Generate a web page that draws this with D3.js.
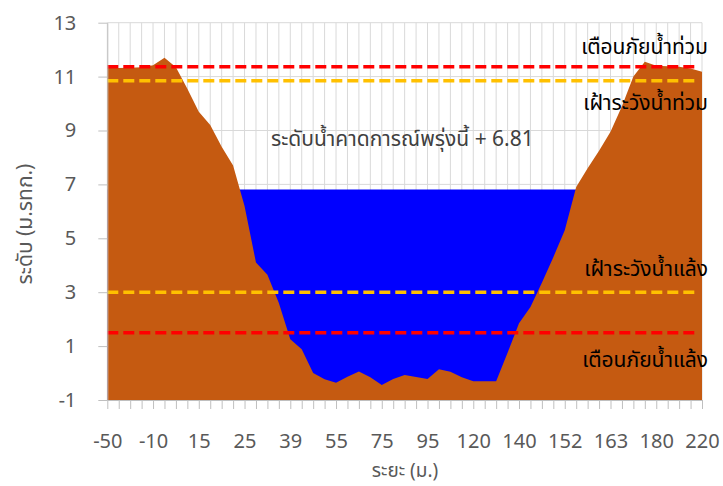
<!DOCTYPE html>
<html>
<head>
<meta charset="utf-8">
<script src="https://cdn.jsdelivr.net/npm/d3@7"></script>
<style>
  body { margin: 0; background: #fff; }
  svg text { font-family: Tahoma, "Noto Sans Thai", "Liberation Sans", "DejaVu Sans", sans-serif; }
</style>
</head>
<body>
<script>
// cross-section distances (only every 4th one is shown on the axis)
const tickLabels = ["-50", "-10", "15", "25", "39", "55", "75", "95", "120", "140", "152", "163", "180", "220"]

// ground elevation at each survey point (m. MSL)
const ground = [
  11.32, 11.32, 11.33, 11.35, 11.42, 11.7, 11.35, 10.55, 9.7, 9.2,
  8.4, 7.7, 6.2, 4.1, 3.65, 2.6, 1.25, 0.88, 0.0, -0.23,
  -0.36, -0.14, 0.06, -0.16, -0.44, -0.22, -0.07, -0.15, -0.22, 0.14,
  0.05, -0.16, -0.3, -0.3, -0.3, 0.75, 1.85, 2.45, 3.35, 4.3,
  5.3, 6.9, 7.6, 8.25, 8.95, 9.9, 11.0, 11.55, 11.4, 11.38,
  11.37, 11.3, 11.18
]

const waterLevel = 6.81

// warning levels
const levels = [
  { name: "เตือนภัยน้ำท่วม", value: 11.37, color: "#FF0000" },
  { name: "เฝ้าระวังน้ำท่วม", value: 10.85, color: "#FFC000" },
  { name: "เฝ้าระวังน้ำแล้ง", value: 3.0, color: "#FFC000" },
  { name: "เตือนภัยน้ำแล้ง", value: 1.5, color: "#FF0000" }
]

const yTicks = [-1, 1, 3, 5, 7, 9, 11, 13]

const width = 723
const height = 486
const margin = { left: 107.3, right: 21, top: 22.7, bottom: 86 }

const svg = d3.select("body").append("svg")
  .attr("width", width)
  .attr("height", height)

const idx = d3.range(ground.length)

const x = d3.scalePoint()
  .domain(idx)
  .range([margin.left, width - margin.right])

const y = d3.scaleLinear()
  .domain([-1, 13])
  .range([height - margin.bottom, margin.top])

// gridlines
svg.append("g")
  .selectAll("line.h")
  .data(yTicks)
  .enter().append("line")
  .attr("x1", margin.left).attr("x2", width - margin.right)
  .attr("y1", d => y(d)).attr("y2", d => y(d))
  .attr("stroke", "#D9D9D9")

svg.append("g")
  .selectAll("line.v")
  .data(idx)
  .enter().append("line")
  .attr("x1", d => x(d)).attr("x2", d => x(d))
  .attr("y1", y(13)).attr("y2", y(-1))
  .attr("stroke", "#D9D9D9")

// water
const water = d3.area()
  .x(d => x(d))
  .y0(y(-1))
  .y1(y(waterLevel))

svg.append("path")
  .datum(idx)
  .attr("d", water)
  .attr("fill", "#0000FF")

// ground
const area = d3.area()
  .x((d, i) => x(i))
  .y0(y(-1))
  .y1(d => y(d))

svg.append("path")
  .datum(ground)
  .attr("d", area)
  .attr("fill", "#C55A11")

// warning lines
svg.append("g")
  .selectAll("line")
  .data(levels)
  .enter().append("line")
  .attr("x1", x(0)).attr("x2", x(ground.length - 1) - 5)
  .attr("y1", d => y(d.value)).attr("y2", d => y(d.value))
  .attr("stroke", d => d.color)
  .attr("stroke-width", 3.5)
  .attr("stroke-dasharray", "11,5")

// axes
const yAxis = d3.axisLeft(y)
  .tickValues(yTicks)
  .tickSizeInner(9)
  .tickSizeOuter(0)
  .tickPadding(22)

svg.append("g")
  .attr("transform", `translate(${margin.left},0)`)
  .call(yAxis)

const xAxis = d3.axisBottom(x)
  .tickSizeInner(9)
  .tickSizeOuter(0)
  .tickPadding(25)
  .tickFormat(d => d % 4 === 0 ? tickLabels[d / 4] : "")

svg.append("g")
  .attr("transform", `translate(0,${y(-1)})`)
  .call(xAxis)

svg.selectAll(".domain, .tick line").attr("stroke", "#BFBFBF")
svg.selectAll(".tick text")
  .attr("fill", "#595959")
  .style("font-size", "20px")

// axis titles
svg.append("text")
  .attr("transform", "translate(32,224) rotate(-90)")
  .attr("text-anchor", "middle")
  .attr("fill", "#595959")
  .style("font-size", "21px")
  .text("ระดับ (ม.รทก.)")

svg.append("text")
  .attr("x", 405)
  .attr("y", 477)
  .attr("text-anchor", "middle")
  .attr("fill", "#595959")
  .style("font-size", "19px")
  .text("ระยะ (ม.)")

// labels
const labelY = [54, 110, 276, 367]
svg.append("g")
  .selectAll("text")
  .data(levels)
  .enter().append("text")
  .attr("x", 708)
  .attr("y", (d, i) => labelY[i])
  .attr("text-anchor", "end")
  .attr("fill", "#000")
  .style("font-size", "21px")
  .text(d => d.name)

svg.append("text")
  .attr("x", 271)
  .attr("y", 146)
  .attr("fill", "#404040")
  .style("font-size", "21px")
  .text("ระดับน้ำคาดการณ์พรุ่งนี้ + " + waterLevel)
</script>
</body>
</html>
